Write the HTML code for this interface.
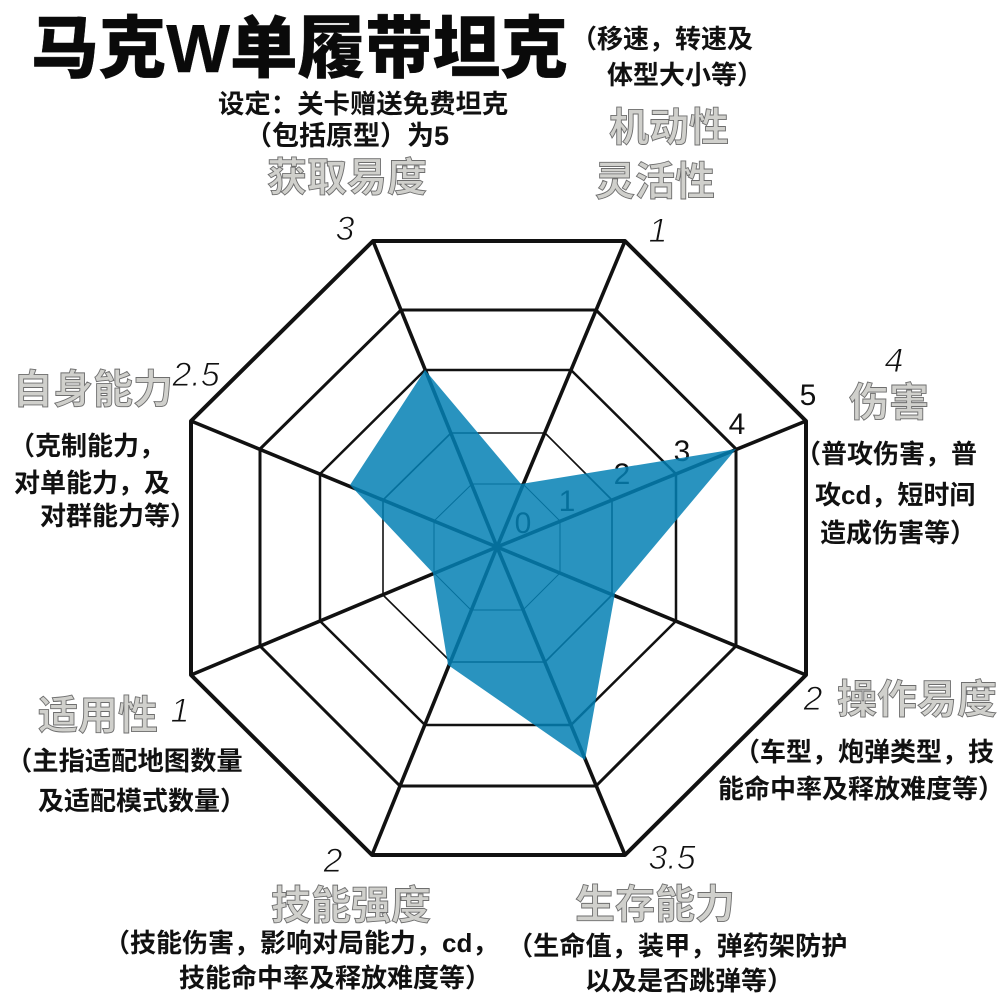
<!DOCTYPE html>
<html lang="zh">
<head>
<meta charset="utf-8">
<title>马克W单履带坦克</title>
<style>
html,body{margin:0;padding:0;background:#fff;width:1000px;height:1000px;overflow:hidden}
svg{display:block}
text{font-family:"Liberation Sans","Noto Sans CJK SC",sans-serif}
.t{font-size:26px;font-weight:700;fill:#111}
.g{font-size:40px;font-weight:700;fill:#d0d0cc;stroke:#6e6e6e;stroke-width:.9px}
.h{font-size:34px;font-style:italic;fill:#111;stroke:#fff;stroke-width:.9px}
.n{font-size:30px;fill:#111}
</style>
</head>
<body>
<svg width="1000" height="1000" viewBox="0 0 1000 1000" xmlns="http://www.w3.org/2000/svg">
<rect width="1000" height="1000" fill="#fff"/>
<g fill="none" stroke="#111" stroke-linejoin="round">
<polygon stroke-width="1" points="472,484 523,484 560,521 560,573 523,610 471,610 434,573 434,521"/>
<polygon stroke-width="1.6" points="451,433 545,433 612,500 612,595 545,662 451,662 383,595 383,500"/>
<polygon stroke-width="2.5" points="425,370 571,370 676,474 676,621 571,725 425,725 320,621 320,474"/>
<polygon stroke-width="3" points="401,310 596,310 736,449 736,646 596,786 400,786 260,646 260,449"/>
<polygon stroke-width="4" points="373,241 625,241 806,421 806,675 625,855 372,855 191,675 191,421"/>
<g stroke-width="3.6">
<line x1="497" y1="547" x2="373" y2="241"/>
<line x1="497" y1="547" x2="625" y2="241"/>
<line x1="497" y1="547" x2="806" y2="421"/>
<line x1="497" y1="547" x2="806" y2="675"/>
<line x1="497" y1="547" x2="625" y2="855"/>
<line x1="497" y1="547" x2="372" y2="855"/>
<line x1="497" y1="547" x2="191" y2="675"/>
<line x1="497" y1="547" x2="191" y2="421"/>
</g>
</g>
<text class="n" x="808" y="405" text-anchor="middle">5</text>
<text class="n" x="737" y="434" text-anchor="middle">4</text>
<text class="n" x="682" y="461" text-anchor="middle">3</text>
<text class="n" x="622" y="484" text-anchor="middle">2</text>
<text class="n" x="567" y="511" text-anchor="middle">1</text>
<text class="n" x="523" y="533" text-anchor="middle">0</text>
<polygon points="425,370 521,484 736,449 615,593 585,760 448,665 433,573 350,485" fill="#0480b4" fill-opacity=".85"/>

<text x="31" y="72" font-size="67.6" font-weight="900" fill="#0a0a0a" stroke="#0a0a0a" stroke-width=".4">马克W单履带坦克</text>

<text class="t" x="571" y="48">（移速，转速及</text>
<text class="t" x="607" y="84">体型大小等）</text>
<text class="t" x="218" y="113" style="font-size:26.4px">设定：关卡赠送免费坦克</text>
<text class="t" x="245" y="145" style="font-size:27px">（包括原型）为5</text>

<text class="g" x="267" y="191">获取易度</text>
<text class="g" x="609" y="141">机动性</text>
<text class="g" x="595" y="195">灵活性</text>
<text class="g" x="13" y="403">自身能力</text>
<text class="g" x="849" y="416">伤害</text>
<text class="g" x="837" y="713">操作易度</text>
<text class="g" x="38" y="729">适用性</text>
<text class="g" x="271" y="919">技能强度</text>
<text class="g" x="575" y="918">生存能力</text>

<text class="t" x="795" y="463">（普攻伤害，普</text>
<text class="t" x="815" y="504">攻cd，短时间</text>
<text class="t" x="820" y="542">造成伤害等）</text>

<text class="t" x="9" y="455">（克制能力，</text>
<text class="t" x="14" y="492">对单能力，及</text>
<text class="t" x="40" y="525">对群能力等）</text>

<text class="t" x="734" y="761">（车型，炮弹类型，技</text>
<text class="t" x="718" y="798">能命中率及释放难度等）</text>

<text class="t" x="6" y="770" style="font-size:26.3px">（主指适配地图数量</text>
<text class="t" x="38" y="810">及适配模式数量）</text>

<text class="t" x="104" y="952">（技能伤害，影响对局能力，cd，</text>
<text class="t" x="179" y="987">技能命中率及释放难度等）</text>

<text class="t" x="507" y="955" style="font-size:26.2px">（生命值，装甲，弹药架防护</text>
<text class="t" x="585" y="990">以及是否跳弹等）</text>

<text class="h" x="345" y="240" text-anchor="middle">3</text>
<text class="h" x="658" y="242" text-anchor="middle">1</text>
<text class="h" x="894" y="372" text-anchor="middle">4</text>
<text class="h" x="196" y="386" text-anchor="middle">2.5</text>
<text class="h" x="813" y="710" text-anchor="middle">2</text>
<text class="h" x="180" y="722" text-anchor="middle">1</text>
<text class="h" x="333" y="872" text-anchor="middle">2</text>
<text class="h" x="672" y="869" text-anchor="middle">3.5</text>
</svg>
</body>
</html>
